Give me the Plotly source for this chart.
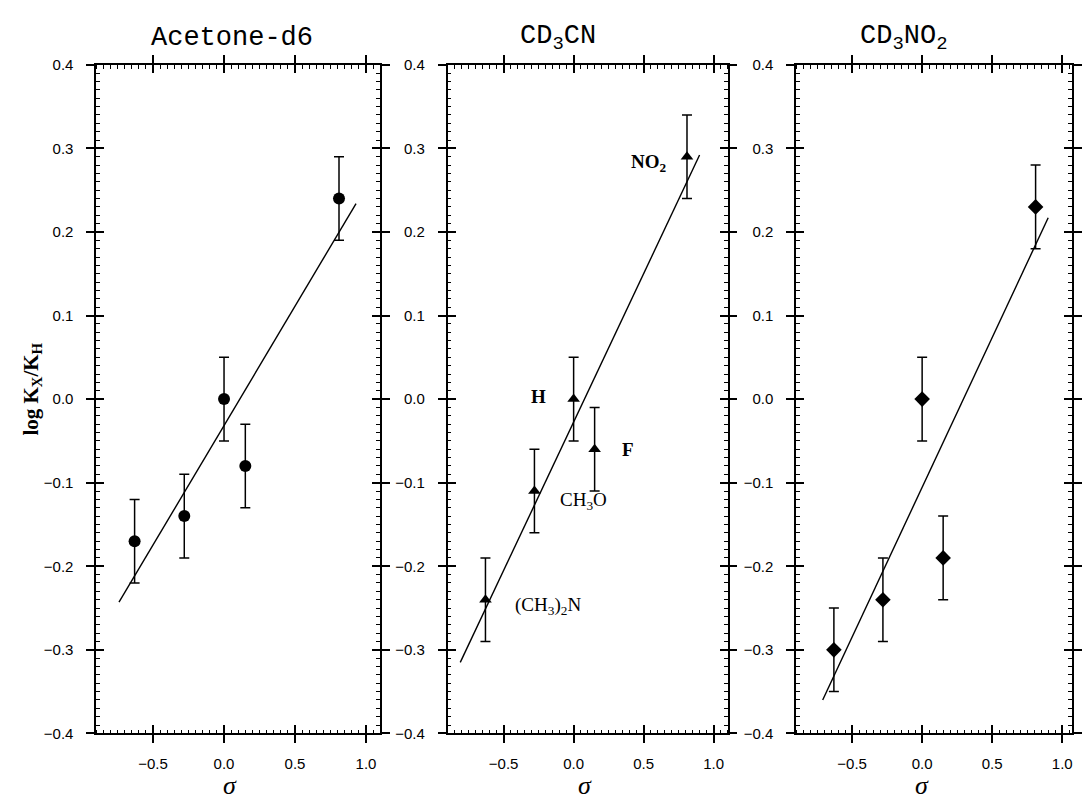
import plotly.graph_objects as go

# ---------------- data ----------------
sigma = [-0.63, -0.28, 0.0, 0.15, 0.81]
substituents = ["(CH<sub>3</sub>)<sub>2</sub>N", "CH<sub>3</sub>O", "H", "F", "NO<sub>2</sub>"]

logk_acetone = [-0.17, -0.14, 0.0, -0.08, 0.24]
logk_cd3cn = [-0.24, -0.11, 0.0, -0.06, 0.29]
logk_cd3no2 = [-0.30, -0.24, 0.0, -0.19, 0.23]

err_acetone = [0.05, 0.05, 0.05, 0.05, 0.05]
err_cd3cn = [0.05, 0.05, 0.05, 0.05, 0.05]
err_cd3no2 = [0.05, 0.05, 0.05, 0.05, 0.05]

fit_x_acetone = [-0.74, 0.93]
fit_y_acetone = [-0.243, 0.234]
fit_x_cd3cn = [-0.81, 0.90]
fit_y_cd3cn = [-0.315, 0.292]
fit_x_cd3no2 = [-0.71, 0.90]
fit_y_cd3no2 = [-0.360, 0.217]

titles = ["Acetone-d6", "CD<sub>3</sub>CN", "CD<sub>3</sub>NO<sub>2</sub>"]
y_ticks = [-0.4, -0.3, -0.2, -0.1, 0.0, 0.1, 0.2, 0.3, 0.4]
x_ticks = [-0.5, 0.0, 0.5, 1.0]

# ---------------- layout geometry ----------------
W, H = 1082, 807
panels = [
    dict(px=(97, 383), xr=[-0.9, 1.1], y=logk_acetone, e=err_acetone,
         fx=fit_x_acetone, fy=fit_y_acetone, sym="circle", size=12, title_x=234, sig_x=232),
    dict(px=(451, 733), xr=[-0.9, 1.1], y=logk_cd3cn, e=err_cd3cn,
         fx=fit_x_cd3cn, fy=fit_y_cd3cn, sym="triangle-up", size=11, title_x=562, sig_x=589),
    dict(px=(802, 1080), xr=[-0.9, 1.07], y=logk_cd3no2, e=err_cd3no2,
         fx=fit_x_cd3no2, fy=fit_y_cd3no2, sym="diamond", size=12, title_x=911, sig_x=929),
]
y_dom = [1 - 740 / H, 1 - 57 / H]

fig = go.Figure()
layout = dict(
    width=W, height=H,
    margin=dict(l=0, r=0, t=0, b=0),
    paper_bgcolor="white", plot_bgcolor="white",
    showlegend=False,
    font=dict(family="Liberation Sans, Arial, sans-serif", color="black"),
)
annotations = []
tick_font = dict(size=15, family="Liberation Sans, Arial, sans-serif", color="black")

for i, p in enumerate(panels, start=1):
    xs = "" if i == 1 else str(i)
    ov = str(i + 3)
    dom = [p["px"][0] / W, p["px"][1] / W]
    common = dict(showgrid=False, zeroline=False, color="black")
    layout[f"xaxis{xs}"] = dict(
        domain=dom, range=p["xr"], anchor=f"y{xs}",
        tickvals=x_ticks, tickformat=".1f",
        ticks="outside", ticklen=8, tickwidth=1.5, tickcolor="black",
        showline=True, linecolor="black", linewidth=1.6, mirror="ticks",
        minor=dict(ticks="inside", ticklen=4, dtick=0.05, tickwidth=1.2, tickcolor="black"),
        tickfont=tick_font, ticklabelstandoff=8,
        **common,
    )
    layout[f"yaxis{xs}"] = dict(
        domain=y_dom, range=[-0.4, 0.4], anchor=f"x{xs}",
        tickvals=y_ticks, tickformat=".1f",
        ticks="outside", ticklen=8, tickwidth=1.5, tickcolor="black",
        showline=True, linecolor="black", linewidth=1.6, mirror="ticks",
        minor=dict(ticks="inside", ticklen=4, dtick=0.01, tickwidth=1.2, tickcolor="black"),
        tickfont=tick_font, ticklabelstandoff=10,
        **common,
    )
    # overlay axes to make major ticks cross the frame
    layout[f"xaxis{ov}"] = dict(
        domain=dom, range=p["xr"], anchor=f"y{ov}", overlaying=f"x{xs}",
        tickvals=x_ticks, ticks="inside", ticklen=8, tickwidth=1.5, tickcolor="black",
        showticklabels=False, showline=False, mirror="ticks", **common,
    )
    layout[f"yaxis{ov}"] = dict(
        domain=y_dom, range=[-0.4, 0.4], anchor=f"x{ov}", overlaying=f"y{xs}",
        tickvals=y_ticks, ticks="inside", ticklen=8, tickwidth=1.5, tickcolor="black",
        showticklabels=False, showline=False, mirror="ticks", **common,
    )

    # fit line
    fig.add_trace(go.Scatter(
        x=p["fx"], y=p["fy"], mode="lines",
        line=dict(color="black", width=1.4),
        xaxis=f"x{xs}", yaxis=f"y{xs}", hoverinfo="skip",
    ))
    # data points with error bars
    fig.add_trace(go.Scatter(
        x=sigma, y=p["y"], mode="markers",
        marker=dict(symbol=p["sym"], size=p["size"], color="black"),
        error_y=dict(type="data", array=p["e"], visible=True,
                     color="black", thickness=1.5, width=5),
        xaxis=f"x{xs}", yaxis=f"y{xs}",
    ))
    # invisible trace on overlay axes
    fig.add_trace(go.Scatter(
        x=p["fx"], y=p["fy"], mode="lines", opacity=0,
        line=dict(width=0), xaxis=f"x{ov}", yaxis=f"y{ov}", hoverinfo="skip",
    ))

    # panel title
    annotations.append(dict(
        text=titles[i - 1], x=p["title_x"] / W, y=1 - 30 / H,
        xref="paper", yref="paper", showarrow=False,
        xanchor="center", yanchor="middle",
        font=dict(family="Liberation Mono, Courier New, monospace", size=27, color="black"),
    ))
    # x-axis label
    annotations.append(dict(
        text="<i>σ</i>", x=p["sig_x"] / W, y=1 - 793 / H,
        xref="paper", yref="paper", showarrow=False,
        xanchor="center", yanchor="middle",
        font=dict(family="Liberation Serif, Times New Roman, serif", size=26, color="black"),
    ))

# substituent labels in CD3CN panel (label anchor positions in data units)
label_pos = [(-0.18, -0.248), (0.07, -0.122), (-0.25, 0.003), (0.39, -0.06), (0.54, 0.282)]
label_bold = [False, False, True, True, True]
for txt, (lx, ly), b in zip(substituents, label_pos, label_bold):
    annotations.append(dict(
        text=f"<b>{txt}</b>" if b else txt, x=lx, y=ly, xref="x2", yref="y2",
        showarrow=False, xanchor="center", yanchor="middle",
        font=dict(family="Liberation Serif, Times New Roman, serif", size=19, color="black"),
    ))

# y-axis title
annotations.append(dict(
    text="<b>log K<sub>X</sub>/K<sub>H</sub></b>", x=32 / W, y=1 - 388 / H,
    xref="paper", yref="paper", showarrow=False, textangle=-90,
    xanchor="center", yanchor="middle",
    font=dict(family="Liberation Serif, Times New Roman, serif", size=21, color="black"),
))

layout["annotations"] = annotations
fig.update_layout(**layout)
fig.write_html(
    "out.html",
    config={"displayModeBar": False},
    post_script="document.body.style.margin='0';document.body.style.overflow='hidden';",
)
